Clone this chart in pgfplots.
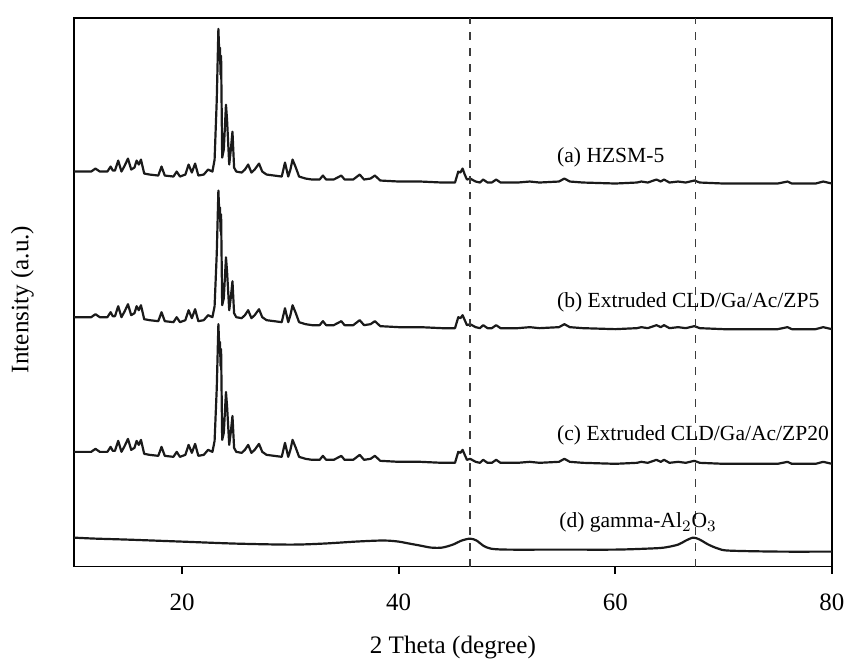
\documentclass[border=0pt]{standalone}
\usepackage{fontspec}
\setmainfont{Liberation Serif}
\usepackage{pgfplots}
\pgfplotsset{compat=1.18}
\usepackage{pgfplotstable}
\definecolor{ink}{HTML}{1A1A1A}

\pgfplotstableread{
x y
10.0 396
11.6 396
12.0 399
12.4 396
13.1 396
13.4 401
13.6 397
13.8 397
14.1 407
14.4 396
14.7 402
15.0 409
15.3 398
15.6 400
15.8 407
16.0 403
16.2 408
16.5 394
17.0 393
17.8 392
18.1 401
18.4 392
19.2 391
19.5 396
19.8 391
20.3 393
20.6 403
20.9 395
21.2 404
21.5 392
22.0 393
22.4 398
22.8 396
23.0 408
23.2 468
23.35 539
23.45 508
23.5 520
23.55 493
23.6 512
23.7 410
23.85 418
24.05 463
24.15 448
24.35 403
24.5 418
24.65 436
24.8 400
25.0 396
25.5 395
25.8 398
26.1 403
26.4 395
26.7 398
27.1 404
27.4 396
27.8 393
28.5 392
29.2 391
29.5 405
29.8 391
30.0 398
30.2 408
30.5 400
30.8 391
31.4 389
32.0 388
32.7 388
33.0 392
33.3 388
34.0 388
34.7 392
35.0 388
35.8 388
36.4 393
36.8 388
37.4 389
37.8 392
38.3 387
40.0 386
42.0 386
44.0 385
45.2 385
45.5 396
45.7 395
45.9 399
46.1 393
46.3 388
46.6 389
47.1 386
47.5 385
47.8 388
48.2 385
48.6 385
49.0 388
49.4 385
51.0 385
52.1 386
53.0 385
54.8 386
55.3 389
55.8 386
57.0 385
60.0 384
62.0 385
62.4 386
63.0 385
63.8 388
64.2 386
64.5 388
65.0 385
65.8 386
66.5 385
67.3 387
67.8 385
70.0 384
75.0 384
75.9 386
76.3 384
78.5 384
79.2 386
80.0 384
}\curveA

\pgfplotstableread{
x y
10.0 250
11.6 250
12.0 253
12.4 250
13.1 250
13.4 255
13.6 251
13.8 251
14.1 261
14.4 250
14.7 256
15.0 263
15.3 252
15.6 254
15.8 261
16.0 257
16.2 262
16.5 248
17.0 247
17.8 246
18.1 255
18.4 246
19.2 245
19.5 250
19.8 245
20.3 247
20.6 257
20.9 249
21.2 258
21.5 246
22.0 247
22.4 252
22.8 250
23.0 261
23.2 314
23.35 377
23.45 349
23.5 360
23.55 336
23.6 353
23.7 262
23.85 269
24.05 310
24.15 296
24.35 257
24.5 270
24.65 286
24.8 254
25.0 250
25.5 249
25.8 252
26.1 257
26.4 249
26.7 252
27.1 258
27.4 250
27.8 247
28.5 246
29.2 245
29.5 259
29.8 245
30.0 252
30.2 262
30.5 254
30.8 245
31.4 243
32.0 242
32.7 242
33.0 246
33.3 242
34.0 242
34.7 246
35.0 242
35.8 242
36.4 247
36.8 242
37.4 243
37.8 246
38.3 241
40.0 240
42.0 240
44.0 239
45.2 239
45.5 250
45.7 249
45.9 252
46.1 247
46.3 242
46.6 243
47.1 240
47.5 239
47.8 242
48.2 239
48.6 239
49.0 242
49.4 239
51.0 239
52.1 240
53.0 239
54.8 240
55.3 243
55.8 240
57.0 239
60.0 238
62.0 239
62.4 240
63.0 239
63.8 242
64.2 240
64.5 242
65.0 239
65.8 240
66.5 239
67.3 241
67.8 239
70.0 238
75.0 238
75.9 240
76.3 238
78.5 238
79.2 240
80.0 238
}\curveB

\pgfplotstableread{
x y
10.0 115
11.6 115
12.0 118
12.4 115
13.1 115
13.4 120
13.6 116
13.8 116
14.1 126
14.4 115
14.7 121
15.0 128
15.3 117
15.6 119
15.8 126
16.0 122
16.2 127
16.5 113
17.0 112
17.8 111
18.1 120
18.4 111
19.2 110
19.5 115
19.8 110
20.3 112
20.6 122
20.9 114
21.2 123
21.5 111
22.0 112
22.4 117
22.8 115
23.0 126
23.2 179
23.35 243
23.45 214
23.5 225
23.55 201
23.6 218
23.7 127
23.85 134
24.05 175
24.15 161
24.35 122
24.5 135
24.65 151
24.8 119
25.0 115
25.5 114
25.8 117
26.1 122
26.4 114
26.7 117
27.1 123
27.4 115
27.8 112
28.5 111
29.2 110
29.5 124
29.8 110
30.0 117
30.2 127
30.5 119
30.8 110
31.4 108
32.0 107
32.7 107
33.0 111
33.3 107
34.0 107
34.7 111
35.0 107
35.8 107
36.4 112
36.8 107
37.4 108
37.8 111
38.3 106
40.0 105
42.0 105
44.0 104
45.2 104
45.5 115
45.7 114
45.9 117
46.1 112
46.3 107
46.6 108
47.1 105
47.5 104
47.8 107
48.2 104
48.6 104
49.0 107
49.4 104
51.0 104
52.1 105
53.0 104
54.8 105
55.3 108
55.8 105
57.0 104
60.0 103
62.0 104
62.4 105
63.0 104
63.8 107
64.2 105
64.5 107
65.0 104
65.8 105
66.5 104
67.3 106
67.8 104
70.0 103
75.0 103
75.9 105
76.3 103
78.5 103
79.2 105
80.0 103
}\curveC

\pgfplotstableread{
x y
10 29
12 28
15 27
20 25
25 23
30 22
33 23
36 25
38 26
39 26
40 25
41 23
42 21
43 19
44 19
45 22
45.8 26
46.6 28
47.2 26
47.8 21
48.5 18
50 17
55 17
60 17
63 18
64.5 19
65.8 22
66.5 26
67.2 29
67.8 27
68.6 22
69.5 18
70.5 16
75 15
80 15
}\curveD

\begin{document}
\begin{tikzpicture}
\begin{axis}[
  name=ax,
  scale only axis,
  width=380pt, height=275pt,
  xmin=10, xmax=80, ymin=0, ymax=550,
  xtick={20,40,60,80},
  ytick=\empty,
  xtick pos=lower,
  tick align=outside,
  major tick length=3.5pt,
  axis line style={line width=0.9pt, black},
  every tick/.style={line width=0.9pt, black},
  /pgf/number format/assume math mode=true,
  xticklabel style={font=\fontsize{12.5}{14}\selectfont, yshift=-6.5pt},
  xlabel={2 Theta (degree)},
  ylabel={Intensity (a.u.)},
  xlabel style={font=\fontsize{12.6}{15}\selectfont, at={(axis description cs:0.5,-0.147)}, anchor=center},
  ylabel style={font=\fontsize{12.6}{15}\selectfont, at={(axis description cs:-0.068,0.487)}, anchor=center},
  clip=true,
]
\addplot[ink, line width=1.1pt, line join=round] table[x=x,y=y] {\curveA};
\addplot[ink, line width=1.1pt, line join=round] table[x=x,y=y] {\curveB};
\addplot[ink, line width=1.1pt, line join=round] table[x=x,y=y] {\curveC};
\addplot[ink, line width=1.1pt, smooth] table[x=x,y=y] {\curveD};
\addplot[ink!85, line width=0.8pt, dash pattern=on 4pt off 4pt] coordinates {(46.6,0) (46.6,550)};
\addplot[ink!85, line width=0.8pt, dash pattern=on 4pt off 4pt] coordinates {(67.4,0) (67.4,550)};
\node[anchor=west, inner sep=0pt, font=\fontsize{10.8}{13}\selectfont] at (axis cs:54.6,410) {(a) HZSM-5};
\node[anchor=west, inner sep=0pt, font=\fontsize{10.8}{13}\selectfont] at (axis cs:54.6,265) {(b) Extruded CLD/Ga/Ac/ZP5};
\node[anchor=west, inner sep=0pt, font=\fontsize{10.8}{13}\selectfont] at (axis cs:54.6,132) {(c) Extruded CLD/Ga/Ac/ZP20};
\node[anchor=west, inner sep=0pt, font=\fontsize{10.8}{13}\selectfont] at (axis cs:54.8,44) {(d) gamma-Al$_2$O$_3$};
\end{axis}
\path ([shift={(-37pt,-47pt)}]ax.south west) rectangle ([shift={(8.5pt,9pt)}]ax.north east);
\end{tikzpicture}
\end{document}
